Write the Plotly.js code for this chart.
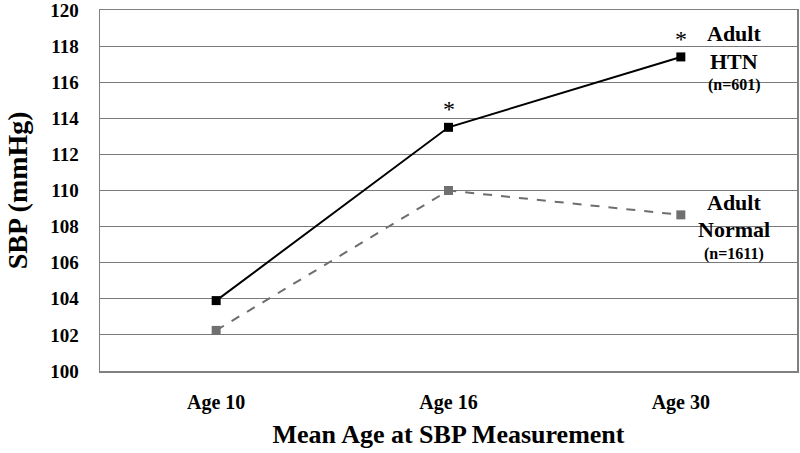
<!DOCTYPE html>
<html>
<head>
<script src="https://cdn.plot.ly/plotly-3.0.1.min.js"></script>
<style>body{margin:0;background:#fff}</style>
</head>
<body>
<div id="chart" style="width:800px;height:453px"></div>
<script>
var categories = ["Age 10", "Age 16", "Age 30"];
var htnValues = [103.9, 113.5, 117.4];
var normalValues = [102.25, 110.0, 108.65];
var yTicks = [100, 102, 104, 106, 108, 110, 112, 114, 116, 118, 120];
var starCategories = ["Age 16", "Age 30"];
var starValues = [113.5, 117.4];

var font = "Liberation Serif, Times New Roman, serif";

var traces = [
  {
    x: categories, y: htnValues, type: "scatter", mode: "lines+markers",
    line: {color: "#000000", width: 2},
    marker: {symbol: "square", size: 9, color: "#000000"},
    showlegend: false, hoverinfo: "skip"
  },
  {
    x: categories, y: normalValues, type: "scatter", mode: "lines+markers",
    line: {color: "#6e6e6e", width: 2, dash: "dash"},
    marker: {symbol: "square", size: 9, color: "#707070"},
    showlegend: false, hoverinfo: "skip"
  }
];

var annotations = [];
for (var i = 0; i < starCategories.length; i++) {
  annotations.push({
    x: starCategories[i], y: starValues[i], xref: "x", yref: "y",
    text: "*", showarrow: false, yshift: 18, xanchor: "center", yanchor: "middle",
    font: {family: font, size: 24, color: "#000"}
  });
}
var labelFont = {family: font, size: 22, color: "#000"};
var smallFont = {family: font, size: 16, color: "#000"};
function lab(y, t, f) {
  return {xref: "paper", yref: "paper", x: 0.910, y: y, xanchor: "center", yanchor: "middle",
          text: "<b>" + t + "</b>", showarrow: false, font: f};
}
annotations.push(
  lab(0.936, "Adult", labelFont),
  lab(0.856, "HTN", labelFont),
  lab(0.793, "(n=601)", smallFont),
  lab(0.468, "Adult", labelFont),
  lab(0.392, "Normal", labelFont),
  lab(0.323, "(n=1611)", smallFont)
);
annotations.push({
  xref: "paper", yref: "paper", x: -0.118, y: 0.5, xanchor: "center", yanchor: "middle",
  textangle: -90, text: "<b>SBP (mmHg)</b>", showarrow: false,
  font: {family: font, size: 28, color: "#000"}
});

var layout = {
  width: 800, height: 453,
  margin: {l: 100, r: 3, t: 10, b: 82},
  paper_bgcolor: "#fff", plot_bgcolor: "#fff",
  font: {family: font, color: "#000"},
  xaxis: {
    type: "category", range: [-0.5, 2.5],
    showgrid: false, zeroline: false,
    showline: true, mirror: true, linecolor: "#808080", linewidth: 1.5,
    ticks: "outside", ticklen: 12, tickcolor: "rgba(0,0,0,0)",
    tickfont: {family: font, size: 20, color: "#000", weight: "bold"},
    title: {text: "<b>Mean Age at SBP Measurement</b>", font: {family: font, size: 26, color: "#000"}, standoff: 12}
  },
  yaxis: {
    range: [100, 120], tickvals: yTicks, ticktext: yTicks.map(String),
    showgrid: true, gridcolor: "#7a7a7a", gridwidth: 1.2,
    zeroline: false, ticklabeloverflow: "allow",
    showline: true, mirror: true, linecolor: "#808080", linewidth: 1.5,
    ticks: "outside", ticklen: 16, tickcolor: "rgba(0,0,0,0)",
    tickfont: {family: font, size: 19, color: "#000", weight: "bold"}
  },
  annotations: annotations
};

Plotly.newPlot("chart", traces, layout, {displayModeBar: false, staticPlot: true});
</script>
</body>
</html>
